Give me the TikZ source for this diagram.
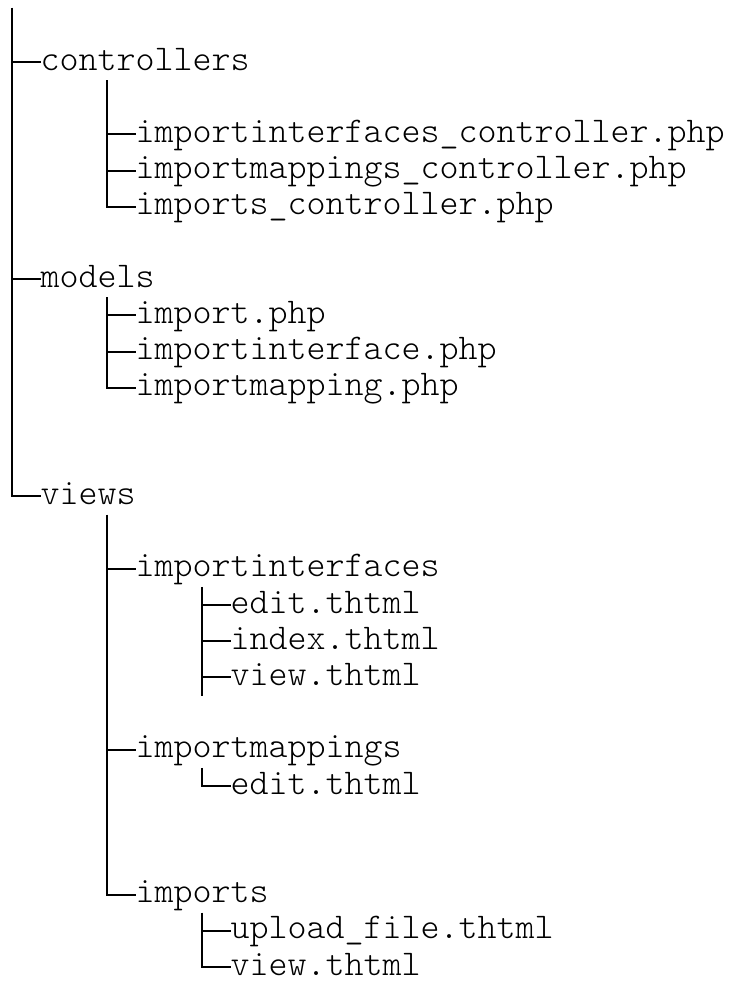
\documentclass[tikz,border=0pt]{standalone}
\usepackage{fontspec}
\begin{document}
\begin{tikzpicture}[x=1pt,y=-1pt,
  tree/.style={line width=2pt, black},
  item/.style={anchor=west, inner sep=0pt, outer sep=0pt,
    font=\ttfamily\fontseries{l}\fontsize{36.2}{40}\selectfont,
    text height=26.1pt, text depth=10.1pt}]
\useasboundingbox (0,0) rectangle (736,983);

% text nodes
\node[item] (controllers) at (40.5,62.0) {controllers};
\node[item] (c1) at (135.5,134.4) {importinterfaces\_controller.php};
\node[item] (c2) at (135.5,170.6) {importmappings\_controller.php};
\node[item] (c3) at (135.5,206.8) {imports\_controller.php};
\node[item] (models) at (40.5,279.2) {models};
\node[item] (m1) at (135.5,315.4) {import.php};
\node[item] (m2) at (135.5,351.6) {importinterface.php};
\node[item] (m3) at (135.5,387.8) {importmapping.php};
\node[item] (views) at (40.5,496.4) {views};
\node[item] (ii) at (135.5,568.8) {importinterfaces};
\node[item] (ii1) at (230.5,605.0) {edit.thtml};
\node[item] (ii2) at (230.5,641.2) {index.thtml};
\node[item] (ii3) at (230.5,677.4) {view.thtml};
\node[item] (im) at (135.5,749.8) {importmappings};
\node[item] (im1) at (230.5,786.0) {edit.thtml};
\node[item] (ip) at (135.5,894.6) {imports};
\node[item] (ip1) at (230.5,930.8) {upload\_file.thtml};
\node[item] (ip2) at (230.5,967.0) {view.thtml};

% trunk tops
\coordinate (root) at (12,7.7);
\coordinate (cT) at (107,80.1);
\coordinate (mT) at (107,297.3);
\coordinate (vT) at (107,514.5);
\coordinate (iiT) at (202,586.9);
\coordinate (iiB) at (202,695.5);
\coordinate (imT) at (202,767.9);
\coordinate (ipT) at (202,912.7);

% root
\draw[tree] (root) |- (views.west);
\draw[tree] (root |- controllers.west) -- (controllers.west);
\draw[tree] (root |- models.west) -- (models.west);
% controllers
\draw[tree] (cT) |- (c3.west);
\draw[tree] (cT |- c1.west) -- (c1.west);
\draw[tree] (cT |- c2.west) -- (c2.west);
% models
\draw[tree] (mT) |- (m3.west);
\draw[tree] (mT |- m1.west) -- (m1.west);
\draw[tree] (mT |- m2.west) -- (m2.west);
% views
\draw[tree] (vT) |- (ip.west);
\draw[tree] (vT |- ii.west) -- (ii.west);
\draw[tree] (vT |- im.west) -- (im.west);
% importinterfaces
\draw[tree] (iiT) -- (iiB);
\draw[tree] (iiT |- ii1.west) -- (ii1.west);
\draw[tree] (iiT |- ii2.west) -- (ii2.west);
\draw[tree] (iiT |- ii3.west) -- (ii3.west);
% importmappings
\draw[tree] (imT) |- (im1.west);
% imports
\draw[tree] (ipT) |- (ip2.west);
\draw[tree] (ipT |- ip1.west) -- (ip1.west);
\end{tikzpicture}
\end{document}
